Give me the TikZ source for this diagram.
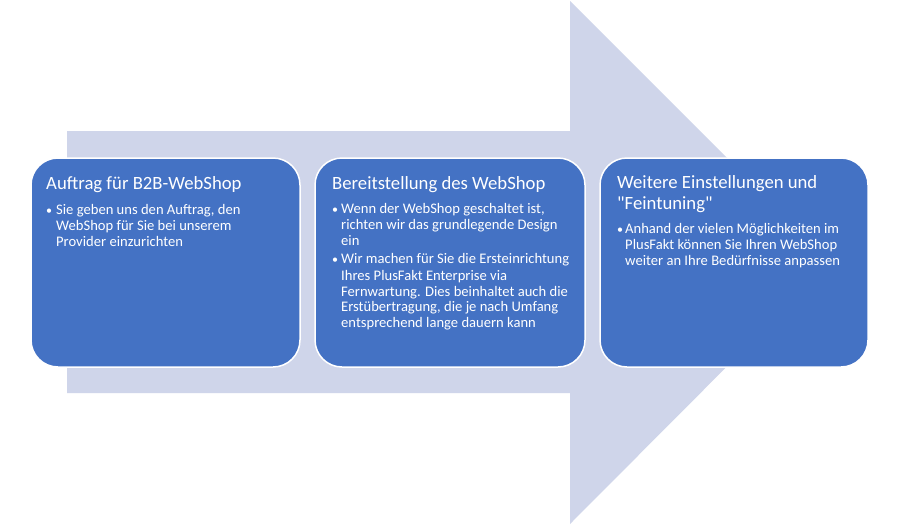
\documentclass[tikz,border=0pt]{standalone}
\usepackage{fontspec}
\setmainfont{Carlito}
\definecolor{arrowfill}{HTML}{CFD5EA}
\definecolor{boxfill}{HTML}{4472C4}
\begin{document}
\begin{tikzpicture}[x=1pt,y=-1pt,
  stepbox/.style={fill=boxfill,draw=white,line width=1.5pt,rounded corners=27pt},
  ttl/.style={anchor=base west,inner sep=0,text=white,font=\fontsize{18.7}{21}\selectfont},
  bdy/.style={anchor=base west,inner sep=0,text=white,font=\fontsize{14.6}{16}\selectfont},
  bul/.style={anchor=base west,inner sep=0,text=white,font=\fontsize{12}{16}\selectfont}]
\useasboundingbox (0,0) rectangle (900,525);
\fill[white] (0,0) rectangle (900,525);
% big arrow
\fill[arrowfill] (67,131) -- (570,131) -- (570,1) -- (831,262) -- (570,524) -- (570,393) -- (67,393) -- cycle;
% boxes
\draw[stepbox] (31,158) rectangle (300,367);
\draw[stepbox] (315,158) rectangle (585,367);
\draw[stepbox] (600,158) rectangle (868,367);
% box 1
\node[ttl] (t1) at (46,189) {Auftrag für B2B-WebShop};
\node[bul] (b1a) at (46,214) {•};
\node[bdy] (l1a) at (56,214) {Sie geben uns den Auftrag, den};
\node[bdy] (l1b) at (56,230) {WebShop für Sie bei unserem};
\node[bdy] (l1c) at (56,246) {Provider einzurichten};
% box 2
\node[ttl] (t2) at (332,189) {Bereitstellung des WebShop};
\node[bul] (b2a) at (332,213) {•};
\node[bdy] (l2a) at (341,213) {Wenn der WebShop geschaltet ist,};
\node[bdy] (l2b) at (341,229) {richten wir das grundlegende Design};
\node[bdy] (l2c) at (341,245) {ein};
\node[bul] (b2b) at (332,263) {•};
\node[bdy] (l2d) at (341,263) {Wir machen für Sie die Ersteinrichtung};
\node[bdy] (l2e) at (341,280) {Ihres PlusFakt Enterprise via};
\node[bdy] (l2f) at (341,296) {Fernwartung. Dies beinhaltet auch die};
\node[bdy] (l2g) at (341,311) {Erstübertragung, die je nach Umfang};
\node[bdy] (l2h) at (341,327) {entsprechend lange dauern kann};
% box 3
\node[ttl] (t3a) at (617,188) {Weitere Einstellungen und};
\node[ttl] (t3b) at (617,209) {\textquotedbl Feintuning\textquotedbl};
\node[bul] (b3a) at (617,233) {•};
\node[bdy] (l3a) at (625,233) {Anhand der vielen Möglichkeiten im};
\node[bdy] (l3b) at (625,249) {PlusFakt können Sie Ihren WebShop};
\node[bdy] (l3c) at (625,265) {weiter an Ihre Bedürfnisse anpassen};
\end{tikzpicture}
\end{document}
